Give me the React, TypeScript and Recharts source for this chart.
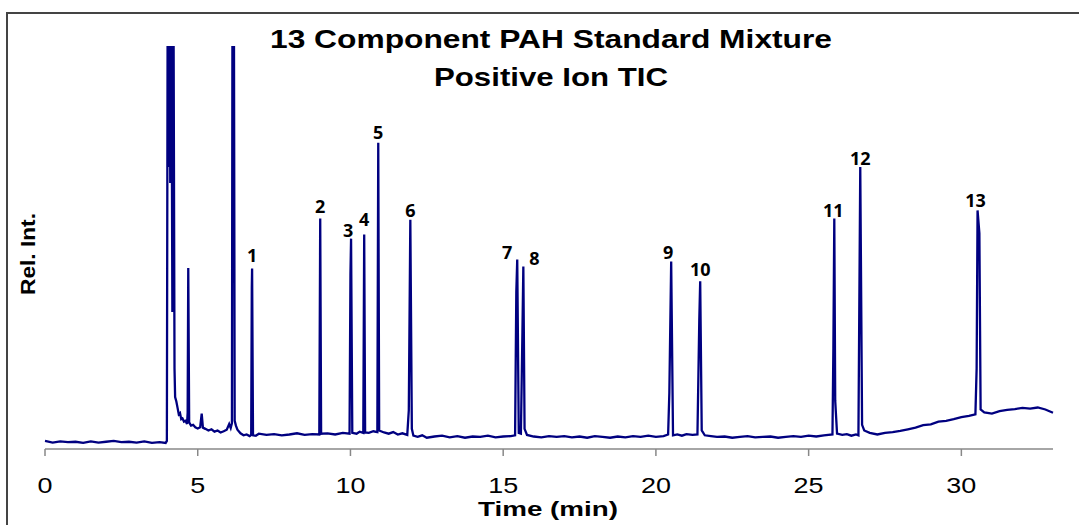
import React from "react";
import { ComposedChart, Line, XAxis, YAxis, ReferenceDot } from "recharts";

// TIC trace, [time (min), relative intensity] — baseline and unlabelled peaks
const earlyTrace: [number, number][] = [
  [0, 2.0], [0.25, 1.6], [0.5, 1.9], [0.75, 1.7], [1.0, 1.8], [1.25, 1.5], [1.5, 1.9],
  [1.75, 1.6], [2.0, 1.8], [2.25, 2.0], [2.5, 1.7], [2.75, 1.8], [3.0, 1.6], [3.25, 1.9],
  [3.5, 1.5], [3.75, 1.7], [3.95, 1.5],
];

// solvent front and early unresolved material (clipped above 100)
const solventTrace: [number, number][] = [
  [3.99, 2.0], [4.02, 130], [4.05, 70], [4.08, 130], [4.1, 66], [4.13, 130], [4.17, 34],
  [4.2, 130], [4.24, 20], [4.26, 12.9], [4.3, 11.8], [4.34, 10.2], [4.38, 8.6], [4.42, 8.9],
  [4.46, 7.4], [4.5, 7.6], [4.55, 6.8], [4.6, 7.0], [4.65, 6.2], [4.67, 9.0], [4.69, 44.9],
  [4.72, 6.6], [4.78, 5.8], [4.85, 6.0], [4.92, 5.4], [5.0, 5.1], [5.08, 5.4], [5.13, 8.8],
  [5.17, 5.3], [5.25, 5.0], [5.35, 4.6], [5.45, 4.9], [5.55, 4.3], [5.65, 4.6], [5.75, 4.1],
  [5.85, 4.4], [5.95, 4.8], [6.03, 6.2], [6.08, 5.2], [6.12, 6.4], [6.14, 130], [6.18, 130],
  [6.21, 7.0], [6.25, 5.8], [6.3, 4.8], [6.4, 3.9], [6.5, 3.4], [6.6, 3.6], [6.7, 3.2],
  [6.75, 3.5], [6.77, 40], [6.81, 3.4], [6.9, 3.3], [7.0, 3.8],
];

const midTrace: [number, number][] = [
  [7.25, 3.5], [7.5, 3.7], [7.75, 3.4], [8.0, 3.6], [8.25, 3.9], [8.5, 3.5], [8.75, 3.7],
  [8.98, 3.6], [9.04, 3.8], [9.25, 3.9], [9.5, 3.6], [9.75, 4.0], [9.97, 3.8], [10.0, 43.5],
  [10.06, 4.0], [10.2, 3.8], [10.3, 4.3], [10.42, 4.0], [10.48, 4.1], [10.6, 4.0],
  [10.75, 4.4], [10.88, 4.2], [10.94, 4.6], [11.1, 4.1], [11.25, 3.8], [11.4, 4.2],
  [11.55, 3.6], [11.7, 3.9], [11.86, 3.5], [11.91, 9.6], [12.01, 5.0], [12.06, 3.3],
  [12.2, 3.0], [12.35, 3.4], [12.5, 2.8], [12.75, 3.1], [13.0, 3.3], [13.25, 2.9],
  [13.5, 3.2], [13.75, 2.8], [14.0, 3.1], [14.25, 3.0], [14.5, 3.3], [14.75, 2.9],
  [15.0, 3.1], [15.25, 3.2], [15.39, 3.4], [15.43, 39], [15.51, 4.0], [15.58, 3.8],
  [15.63, 29], [15.7, 5.0], [15.78, 3.5], [16.0, 3.1], [16.25, 2.9], [16.5, 3.2],
  [16.75, 3.0], [17.0, 3.2], [17.25, 2.9], [17.5, 3.1], [17.75, 2.8], [18.0, 3.2],
  [18.25, 3.0], [18.5, 2.8], [18.75, 3.1], [19.0, 2.9], [19.25, 3.2], [19.5, 3.0],
  [19.75, 3.3], [20.0, 3.0], [20.25, 3.2], [20.4, 3.6], [20.44, 14], [20.56, 3.4],
  [20.7, 3.6], [20.85, 3.3], [21.0, 3.7], [21.2, 3.5], [21.36, 3.6], [21.42, 32],
  [21.5, 4.6], [21.6, 3.4], [21.8, 3.2], [22.0, 3.0],
];

const lateTrace: [number, number][] = [
  [22.25, 3.1], [22.5, 2.8], [22.75, 3.0], [23.0, 3.2], [23.25, 2.9], [23.5, 3.0],
  [23.75, 3.1], [24.0, 2.8], [24.25, 3.0], [24.5, 3.2], [24.75, 3.0], [25.0, 3.3],
  [25.25, 3.1], [25.5, 3.4], [25.78, 3.6], [25.81, 25], [25.87, 12], [25.93, 3.8],
  [26.1, 3.5], [26.25, 3.7], [26.4, 3.3], [26.55, 3.6], [26.63, 3.4], [26.75, 6.0],
  [26.82, 4.6], [27.0, 4.0], [27.25, 3.6], [27.5, 4.0], [27.75, 4.2], [28.0, 4.5],
  [28.25, 4.9], [28.5, 5.3], [28.75, 5.9], [29.0, 6.1], [29.25, 6.8], [29.5, 7.0],
  [29.75, 7.4], [30.0, 7.9], [30.25, 8.2], [30.46, 8.6], [30.5, 20], [30.59, 53.5],
  [30.63, 9.8], [30.75, 9.1], [31.0, 8.8], [31.25, 9.4], [31.5, 9.7], [31.75, 9.9],
  [32.0, 10.2], [32.25, 10.0], [32.5, 10.3], [32.75, 9.8], [33.0, 9.0],
];

// numbered PAH peaks: label, retention time (min), apex height
const peakLabels = ["1", "2", "3", "4", "5", "6", "7", "8", "9", "10", "11", "12", "13"];
const peakTimes = [6.78, 9.01, 10.02, 10.45, 10.91, 11.96, 15.46, 15.66, 20.5, 21.45, 25.84, 26.69, 30.53];
const peakHeights = [44.8, 57.2, 52.2, 53.2, 76.0, 56.9, 47.0, 45.3, 46.5, 41.6, 57.2, 70.0, 59.2];

const timeTicks = [0, 5, 10, 15, 20, 25, 30];

// label offsets [dx, dy] from the peak apex
const labelNudge: [number, number][] = [
  [0, -6], [0, -5], [-3, -2], [0, -9], [0, -4], [0, -3], [-10, -1],
  [11, -1], [-3, -3], [0, -5], [-1, -1], [0, -2], [-2, -3],
];

const trace = [
  ...earlyTrace,
  ...solventTrace,
  ...midTrace,
  ...lateTrace,
  ...peakTimes.map((t, i) => [t, peakHeights[i]] as [number, number]),
]
  .sort((a, b) => a[0] - b[0])
  .map(([time, intensity]) => ({ time, intensity }));

const FONT = "'Liberation Sans', Arial, sans-serif";

const TimeTick = (props: any) => {
  const { x, y, payload } = props;
  const s = String(payload.value);
  return (
    <text
      x={x}
      y={y + 37}
      textAnchor="middle"
      fontFamily={FONT}
      fontSize={22}
      fill="#000"
      textLength={s.length * 15}
      lengthAdjust="spacingAndGlyphs"
    >
      {s}
    </text>
  );
};

export default function App() {
  return (
    <div style={{ position: "absolute", left: 0, top: 0, width: 1079, height: 525, background: "#fff", overflow: "hidden" }}>
      <div
        style={{
          position: "absolute",
          left: 6,
          top: 12,
          width: 1079,
          height: 525,
          borderTop: "2px solid #444",
          borderLeft: "2px solid #444",
        }}
      />
      <ComposedChart
        width={1079}
        height={525}
        data={trace}
        margin={{ top: 46, right: 26, bottom: 46, left: 45 }}
        style={{ position: "absolute", left: 0, top: 0 }}
      >
        <XAxis
          dataKey="time"
          type="number"
          domain={[0, 33]}
          ticks={timeTicks}
          height={30}
          stroke="#888"
          strokeWidth={1.5}
          tickSize={7}
          tickMargin={0}
          tick={<TimeTick />}
        />
        <YAxis type="number" domain={[0, 100]} allowDataOverflow hide width={0} />
        <Line
          type="linear"
          dataKey="intensity"
          stroke="#000080"
          strokeWidth={2.3}
          dot={false}
          isAnimationActive={false}
        />
        {peakLabels.map((label, i) => (
          <ReferenceDot
            key={label}
            x={peakTimes[i]}
            y={peakHeights[i]}
            r={1}
            shape={(p: any) => (
              <text
                x={p.cx + labelNudge[i][0]}
                y={p.cy + labelNudge[i][1]}
                textAnchor="middle"
                fontFamily="'Noto Sans', 'Open Sans', sans-serif"
                fontWeight="bold"
                fontSize={18}
                fill="#000"
              >
                {label}
              </text>
            )}
          />
        ))}
      </ComposedChart>
      <svg width={1079} height={525} style={{ position: "absolute", left: 0, top: 0, pointerEvents: "none" }}>
        <text x={270} y={48} fontFamily={FONT} fontWeight="bold" fontSize={25} textLength={562} lengthAdjust="spacingAndGlyphs">
          13 Component PAH Standard Mixture
        </text>
        <text x={434} y={86} fontFamily={FONT} fontWeight="bold" fontSize={25} textLength={234} lengthAdjust="spacingAndGlyphs">
          Positive Ion TIC
        </text>
        <text x={478} y={516} fontFamily={FONT} fontWeight="bold" fontSize={21} textLength={140} lengthAdjust="spacingAndGlyphs">
          Time (min)
        </text>
        <text
          x={35}
          y={254}
          transform="rotate(-90 35 254)"
          textAnchor="middle"
          fontFamily={FONT}
          fontWeight="bold"
          fontSize={21}
          textLength={82}
          lengthAdjust="spacingAndGlyphs"
        >
          Rel. Int.
        </text>
      </svg>
    </div>
  );
}
